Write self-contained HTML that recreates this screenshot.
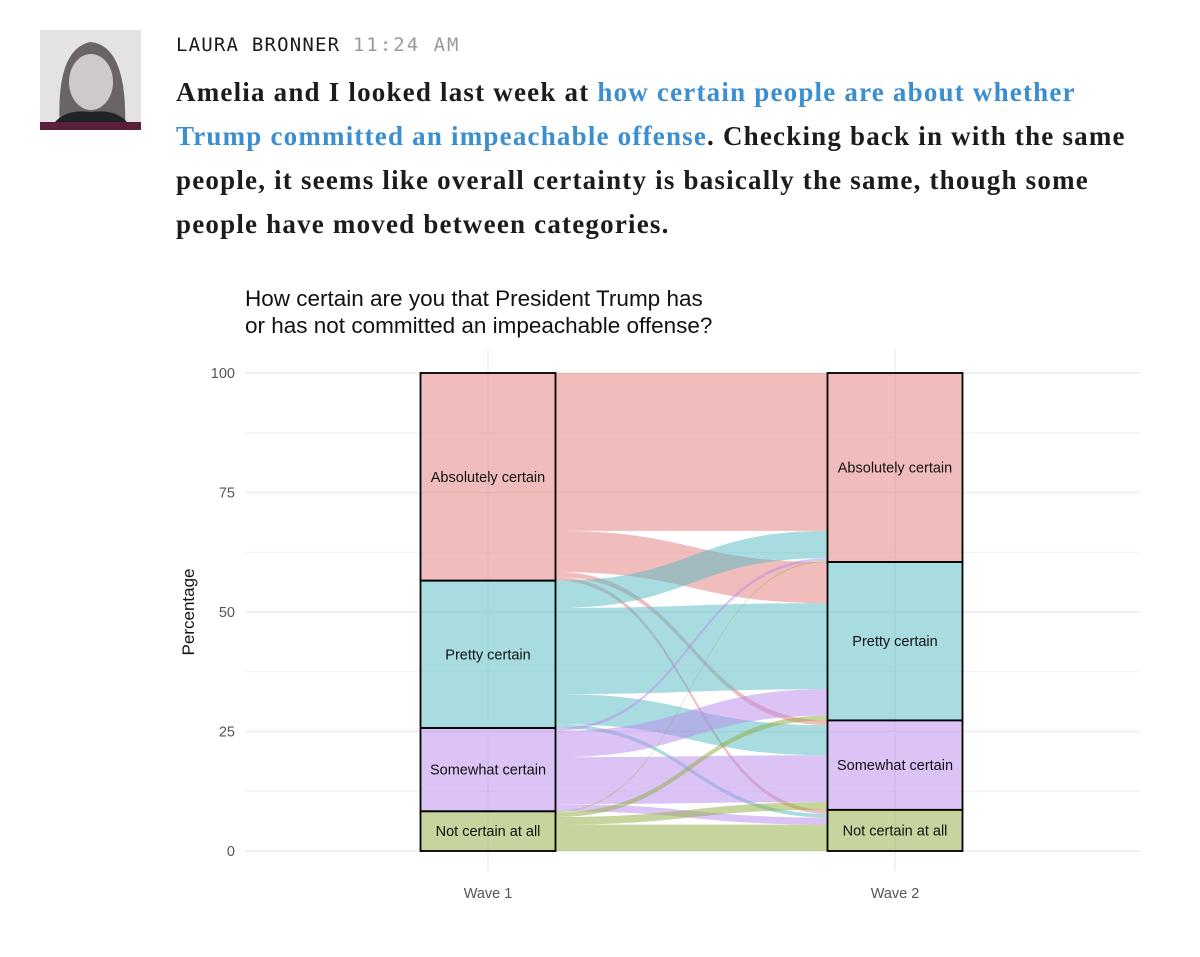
<!DOCTYPE html>
<html><head><meta charset="utf-8"><style>
body{margin:0;width:1200px;height:957px;background:#fff;overflow:hidden;position:relative;font-family:"Liberation Sans",sans-serif}
#avatar{position:absolute;left:40px;top:30px;width:101px;height:100px;background:#e4e2e2;overflow:hidden}
#name{position:absolute;left:176px;top:34px;font-family:"DejaVu Sans Mono","Liberation Mono",monospace;font-size:19px;letter-spacing:1.2px;color:#1a1a1a}
#name span{color:#9a9a9a;letter-spacing:2px}
#msg{position:absolute;left:176px;top:70px;width:1020px;white-space:nowrap;font-family:"Liberation Serif",serif;font-weight:bold;font-size:27px;line-height:44px;color:#1d1c1d;letter-spacing:1.2px}
#msg a{color:#3b8ed0;text-decoration:none}
</style></head><body>
<div id="avatar">
<svg width="101" height="100">
<path d="M20 100 Q15 20 50 12 Q88 15 85 100Z" fill="#6a6464"/>
<ellipse cx="51" cy="52" rx="22" ry="28" fill="#cfcaca"/>
<path d="M10 100 Q20 78 51 82 Q82 78 92 100Z" fill="#202326"/>
<rect x="0" y="92" width="101" height="8" fill="#5a1f3a"/>
</svg></div>
<div id="name">LAURA BRONNER <span>11:24 AM</span></div>
<div id="msg">Amelia and I looked last week at <a href="#">how certain people are about whether<br>Trump committed an impeachable offense</a>. Checking back in with the same<br>people, it seems like overall certainty is basically the same, though some<br>people have moved between categories.</div>
<svg id="chart" width="1200" height="957" style="position:absolute;left:0;top:0"></svg>
<script>
const categories=["Absolutely certain","Pretty certain","Somewhat certain","Not certain at all"];
const colors=["#E17B79","#51B9C1","#B987EB","#8DAB3D"];
const fromAbs=[33.0,8.6,1.0,0.8];
const fromPretty=[5.7,18.0,6.3,0.8];
const fromSomewhat=[0.6,5.5,9.8,1.5];
const fromNot=[0.2,1.0,1.6,5.5];
const yTicks=[0,25,50,75,100];
const waves=["Wave 1","Wave 2"];
const flows=[fromAbs,fromPretty,fromSomewhat,fromNot];
const NS="http://www.w3.org/2000/svg";
const svg=document.getElementById('chart');
const y=v=>851-v*4.78;
const xw=[488,895],bw=135;
function el(t,a,p){const e=document.createElementNS(NS,t);for(const k in a)e.setAttribute(k,a[k]);(p||svg).appendChild(e);return e;}
const t1=el('text',{x:245,y:306,'font-size':22.5,fill:'#111'});t1.textContent="How certain are you that President Trump has";


const t2=el('text',{x:245,y:333,'font-size':22.5,fill:'#111'});t2.textContent="or has not committed an impeachable offense?";


for(let v=0;v<=100;v+=12.5){const g=el('line',{x1:245,x2:1140,y1:y(v),y2:y(v),stroke:'#ececec','stroke-width':v%25==0?1.4:0.8});

}
xw.forEach(x=>{const g=el('line',{x1:x,x2:x,y1:349,y2:871,stroke:'#ececec','stroke-width':1.4});

});
yTicks.forEach(v=>{const t=el('text',{x:235,y:y(v)+5,'font-size':14.5,fill:'#555','text-anchor':'end'});t.textContent=v;

});
waves.forEach((w,i)=>{const t=el('text',{x:xw[i],y:898,'font-size':14.5,fill:'#555','text-anchor':'middle'});t.textContent=w;

});
const yt=el('text',{x:0,y:0,'font-size':17,fill:'#111','text-anchor':'middle',transform:'translate(194,612) rotate(-90)'});yt.textContent="Percentage";


const n=categories.length;
const tot1=flows.map(r=>r.reduce((a,b)=>a+b,0));
const tot2=categories.map((c,j)=>flows.reduce((a,r)=>a+r[j],0));
const s1=100/tot1.reduce((a,b)=>a+b,0), s2=100/tot2.reduce((a,b)=>a+b,0);
let top1=[],acc=100;for(let i=0;i<n;i++){top1.push(acc);acc-=tot1[i]*s1;}
let top2=[];acc=100;for(let j=0;j<n;j++){top2.push(acc);acc-=tot2[j]*s2;}
const cur1=top1.slice(),cur2=top2.slice();
const xa=xw[0]+bw/2,xb=xw[1]-bw/2,xm=(xa+xb)/2;
for(let i=0;i<n;i++)for(let j=0;j<n;j++){
 const v=flows[i][j];
 const a0=y(cur1[i]),a1=y(cur1[i]-v*s1),b0=y(cur2[j]),b1=y(cur2[j]-v*s2);
 cur1[i]-=v*s1;cur2[j]-=v*s2;
 const d=`M${xa},${a0} C${xm},${a0} ${xm},${b0} ${xb},${b0} L${xb},${b1} C${xm},${b1} ${xm},${a1} ${xa},${a1}Z`;
 const p=el('path',{d:d,fill:colors[i],'fill-opacity':0.5});
 
 
}
[[tot1,s1,top1],[tot2,s2,top2]].forEach(([tot,s,top],w)=>{
 for(let i=0;i<n;i++){
  const r=el('rect',{x:xw[w]-bw/2,y:y(top[i]),width:bw,height:y(top[i]-tot[i]*s)-y(top[i]),fill:colors[i],'fill-opacity':0.5,stroke:'#000','stroke-width':1.8});
  
  
  const t=el('text',{x:xw[w],y:(y(top[i])+y(top[i]-tot[i]*s))/2+5,'font-size':14.5,fill:'#111','text-anchor':'middle'});t.textContent=categories[i];
  
  
 }
});
</script>
</body></html>
